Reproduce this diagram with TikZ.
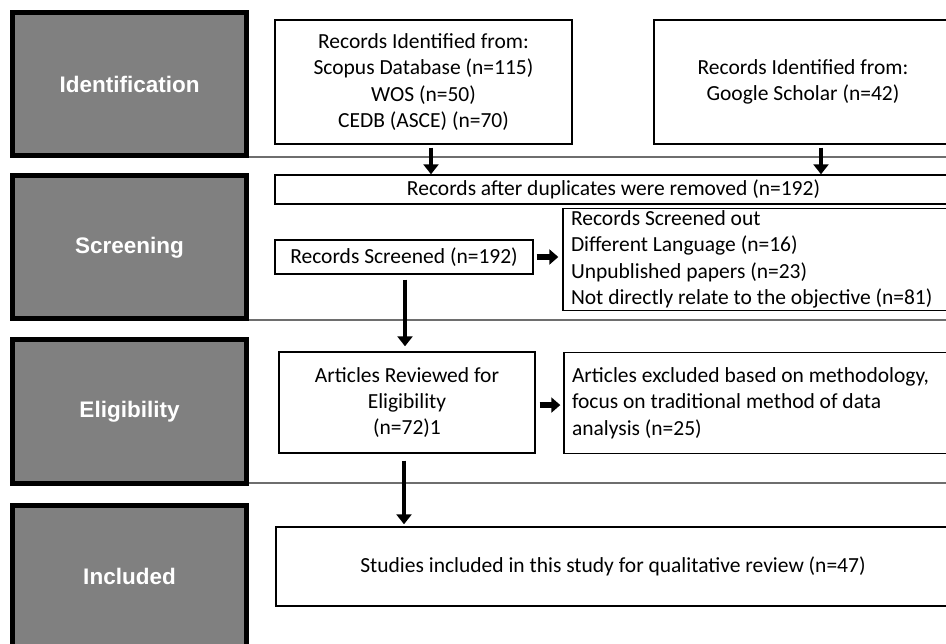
\documentclass[tikz,border=0pt]{standalone}
\usepackage{fontspec}
\setmainfont{Carlito}
\newfontfamily\labfont{Liberation Sans}
\usetikzlibrary{arrows.meta,calc}
\definecolor{labgray}{RGB}{128,128,128}
\definecolor{sepgray}{RGB}{110,110,110}
\tikzset{
  labbox/.style={draw=black, line width=5pt, fill=labgray, text=white,
    font=\labfont\bfseries\fontsize{22.5}{26}\selectfont,
    minimum width=234pt, minimum height=143pt, inner sep=0pt},
  flowbox/.style={draw=black, line width=1.4pt, fill=white,
    font=\fontsize{21.5}{26.3}\selectfont, inner sep=0pt, align=center},
  sepline/.style={draw=sepgray, line width=1.2pt},
  flowarr/.style={line width=4pt, -{Triangle[width=15pt,length=10pt]}},
  sidearr/.style={line width=6pt, -{Triangle[width=15pt,length=9pt]}},
}
\begin{document}
\begin{tikzpicture}[x=1pt,y=-1pt]
\clip (0,0) rectangle (946,644);
\fill[white] (0,0) rectangle (946,644);
% separators
\coordinate (s1a) at (249,157); \coordinate (s1b) at (946,157);
\coordinate (s2a) at (249,320); \coordinate (s2b) at (946,320);
\coordinate (s3a) at (249,483); \coordinate (s3b) at (946,483);
\draw[sepline] (s1a) -- (s1b);
\draw[sepline] (s2a) -- (s2b);
\draw[sepline] (s3a) -- (s3b);
% stage labels
\node[labbox] (lid) at (129.5,84) {Identification};
\node[labbox] (lsc) at (129.5,247.5) {Screening};
\node[labbox] (lel) at (129.5,411.5) {Eligibility};
\node[labbox] (lin) at (129.5,576.5) {Included};
% flow boxes
\node[flowbox, minimum width=297pt, minimum height=124pt] (id1) at (423.5,82)
  {Records Identified from:\\Scopus Database (n=115)\\WOS (n=50)\\CEDB (ASCE) (n=70)};
\node[flowbox, minimum width=298pt, minimum height=124pt] (id2) at (803,82)
  {Records Identified from:\\Google Scholar (n=42)};
\node[flowbox, minimum width=677pt, minimum height=29pt] (dup) at (613.5,189.5)
  {Records after duplicates were removed (n=192)};
\node[flowbox, minimum width=258pt, minimum height=34pt] (scr) at (404,257)
  {Records Screened (n=192)};
\node[flowbox, minimum width=392pt, minimum height=102pt, align=flush left,
  text width=376pt, inner xsep=8pt] (sco) at (759,259.5)
  {Records Screened out\\Different Language (n=16)\\Unpublished papers (n=23)\\Not directly relate to the objective (n=81)};
\node[flowbox, minimum width=256pt, minimum height=101pt] (rev) at (407,402.5)
  {Articles Reviewed for\\Eligibility\\(n=72)1};
\node[flowbox, minimum width=392pt, minimum height=101pt, align=flush left,
  text width=376pt, inner xsep=8pt] (exc) at (760,403)
  {Articles excluded based on methodology,\\focus on traditional method of data\\analysis (n=25)};
\node[flowbox, minimum width=674pt, minimum height=79pt] (st) at (613,566.5)
  {Studies included in this study for qualitative review (n=47)};
% arrows
\coordinate (ra) at ($(rev.north east)!0.525!(rev.south east)$);
\draw[flowarr, shorten <=3pt] ([xshift=7.5pt]id1.south) -- ([xshift=7.5pt]id1.south |- dup.north);
\draw[flowarr, shorten <=3pt] ([xshift=18pt]id2.south) -- ([xshift=18pt]id2.south |- dup.north);
\draw[sidearr, shorten <=3pt, shorten >=4pt] (scr.east) -- (scr.east -| sco.west);
\draw[flowarr, shorten <=5pt, shorten >=5pt] ([xshift=1pt]scr.south) -- ([xshift=1pt]scr.south |- rev.north);
\draw[sidearr, shorten <=4pt, shorten >=3pt] (ra) -- (ra -| exc.west);
\draw[flowarr, shorten <=7pt, shorten >=2pt] ([xshift=-3pt]rev.south) -- ([xshift=-3pt]rev.south |- st.north);
\end{tikzpicture}
\end{document}
